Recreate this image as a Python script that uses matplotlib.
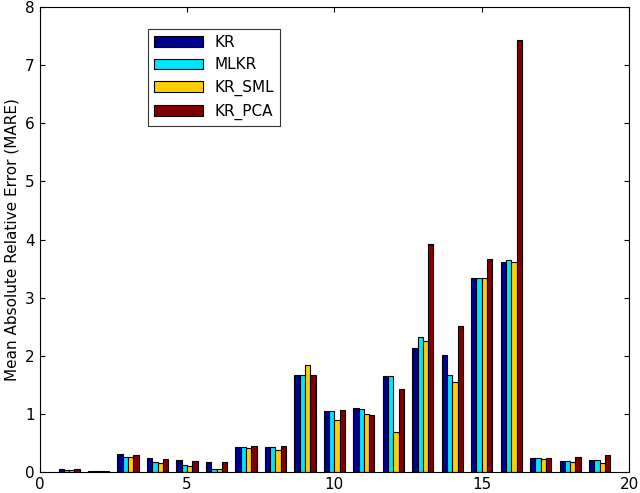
import numpy as np
import matplotlib.pyplot as plt

groups = np.arange(1, 20)
kr = [0.05, 0.03, 0.32, 0.25, 0.21, 0.17, 0.43, 0.43, 1.67, 1.05, 1.10, 1.65, 2.14, 2.01, 3.34, 3.62, 0.24, 0.19, 0.21]
mlkr = [0.04, 0.03, 0.27, 0.17, 0.12, 0.05, 0.43, 0.43, 1.67, 1.06, 1.09, 1.65, 2.32, 1.68, 3.34, 3.65, 0.24, 0.19, 0.21]
kr_sml = [0.04, 0.02, 0.27, 0.16, 0.11, 0.05, 0.41, 0.39, 1.84, 0.90, 1.01, 0.70, 2.26, 1.56, 3.34, 3.62, 0.22, 0.18, 0.16]
kr_pca = [0.05, 0.03, 0.30, 0.22, 0.20, 0.17, 0.46, 0.45, 1.68, 1.07, 0.98, 1.43, 3.93, 2.51, 3.66, 7.43, 0.25, 0.26, 0.29]

series = [("KR", kr, "#00008F"), ("MLKR", mlkr, "#00E5FF"),
          ("KR_SML", kr_sml, "#FFCF00"), ("KR_PCA", kr_pca, "#800000")]

fig, ax = plt.subplots(figsize=(6.4, 4.93), dpi=100)
w = 0.18
for i, (name, vals, col) in enumerate(series):
    ax.bar(groups + (i - 1.5) * w, vals, width=w, color=col,
           edgecolor="black", linewidth=0.8, label=name)

ax.set_xlim(0, 20)
ax.set_ylim(0, 8)
ax.set_xticks([0, 5, 10, 15, 20])
ax.set_yticks(range(9))
ax.tick_params(direction="in", top=True, right=True, labelsize=11)
ax.set_ylabel("Mean Absolute Relative Error (MARE)", fontsize=11)
leg = ax.legend(loc="upper left", bbox_to_anchor=(0.17, 0.97), fancybox=False,
                edgecolor="black", fontsize=11, handlelength=3.2, borderpad=0.4)
leg.get_frame().set_linewidth(0.8)
plt.subplots_adjust(left=0.062, right=0.983, top=0.986, bottom=0.042)
plt.savefig("out.png", dpi=100)
